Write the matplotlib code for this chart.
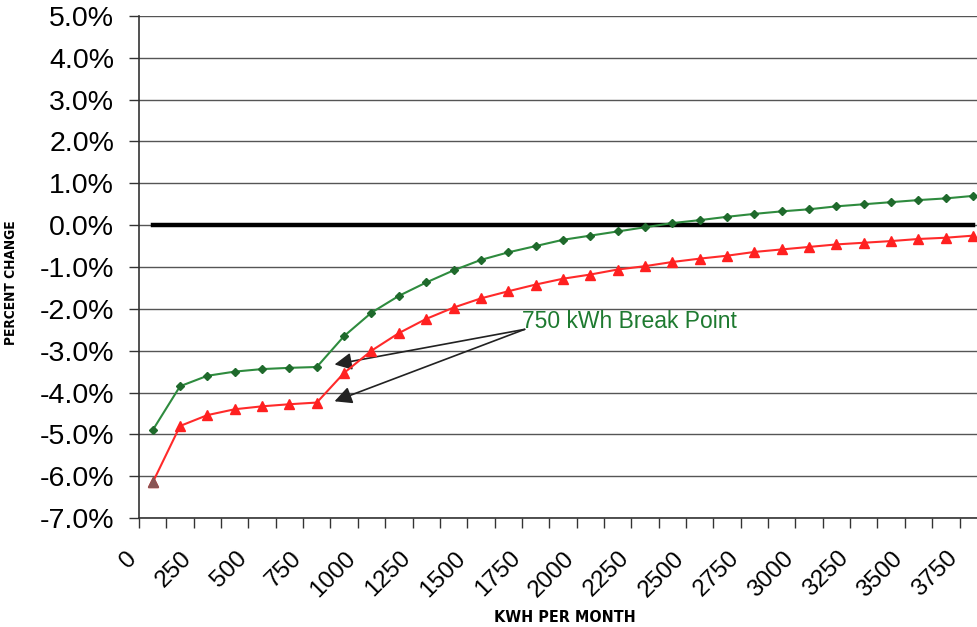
import numpy as np
import matplotlib.pyplot as plt
from matplotlib.transforms import ScaledTranslation

# kWh per month (categories), every 125
kwh = [0, 125, 250, 375, 500, 625, 750, 875, 1000, 1125, 1250, 1375, 1500,
       1625, 1750, 1875, 2000, 2125, 2250, 2375, 2500, 2625, 2750, 2875,
       3000, 3125, 3250, 3375, 3500, 3625, 3750]

# percent change, green series (diamonds)
green = [-4.90, -3.85, -3.60, -3.50, -3.44, -3.41, -3.39, -2.65, -2.09, -1.69,
         -1.37, -1.08, -0.83, -0.65, -0.50, -0.35, -0.25, -0.15, -0.05, 0.05,
         0.12, 0.20, 0.27, 0.33, 0.38, 0.45, 0.50, 0.55, 0.60, 0.64, 0.70]

# percent change, red series (triangles)
red = [-6.15, -4.80, -4.54, -4.40, -4.33, -4.28, -4.24, -3.53, -3.00, -2.58,
       -2.24, -1.97, -1.75, -1.58, -1.42, -1.28, -1.18, -1.06, -0.98, -0.88,
       -0.80, -0.73, -0.64, -0.58, -0.52, -0.46, -0.42, -0.38, -0.33, -0.30,
       -0.25]

baseline = [0.0] * len(kwh)

yticks = [-7, -6, -5, -4, -3, -2, -1, 0, 1, 2, 3, 4, 5]

fig = plt.figure(figsize=(9.77, 6.27), dpi=100)
ax = fig.add_axes([0.1423, 0.1738, 0.8678, 0.8007])

step = 125
ax.set_xlim(kwh[0] - step / 2, kwh[-1] + step / 2)
ax.set_ylim(-7, 5)

ax.grid(True, axis='y', color='#555555', linewidth=1.0)
ax.set_axisbelow(True)

ax.plot(kwh, baseline, color='black', linewidth=3.2, zorder=3)
ax.plot(kwh, red, color='#ff2a2a', linewidth=1.5, marker='^', markersize=7,
        markerfacecolor='#ff2020', markeredgecolor='#ff2020', zorder=4)
ax.plot(kwh[0], red[0], marker='^', markersize=7, color='#8a5555', zorder=5)
ax.plot(kwh, green, color='#2e8b3e', linewidth=1.5, marker='D', markersize=4.5,
        markerfacecolor='#1f6a2c', markeredgecolor='#1f6a2c', zorder=4)

# annotation
ax.text(1690, -2.30, '750 kWh Break Point', color='#1e7a30', fontsize=16.5,
        family='Liberation Sans', ha='left', va='center')
for tip in [(831, -3.33), (831, -4.21)]:
    ax.annotate('', xy=tip, xytext=(1700, -2.49),
                arrowprops=dict(arrowstyle='-|>', color='#222222', lw=1.2,
                                mutation_scale=26, shrinkA=0, shrinkB=0))

# spines
ax.spines['top'].set_visible(False)
ax.spines['right'].set_visible(False)
ax.spines['left'].set_color('#333333')
ax.spines['bottom'].set_color('#333333')
ax.spines['left'].set_linewidth(1.2)
ax.spines['bottom'].set_linewidth(1.2)

# y axis
ax.set_yticks(yticks)
ax.set_yticklabels(['%.1f%%' % v for v in yticks], fontsize=20.5,
                   family='Liberation Sans')
ax.tick_params(axis='y', length=7, width=1.0, color='#333333', pad=11)

# x axis: labels at every other category, tick marks at category borders
ax.set_xticks(kwh[::2])
ax.set_xticklabels([str(v) for v in kwh[::2]], rotation=45, ha='right',
                   fontsize=17.5, family='Liberation Sans')
ax.set_xticks(list(np.array(kwh) - step / 2) + [kwh[-1] + step / 2], minor=True)
ax.tick_params(axis='x', which='major', length=0, pad=21)
ax.tick_params(axis='x', which='minor', length=7, width=1.0, color='#333333')
for lab in ax.get_xticklabels():
    lab.set_transform(lab.get_transform() +
                      ScaledTranslation(-8 / 72, 0, fig.dpi_scale_trans))

ax.set_xlabel('KWH PER MONTH', fontsize=11.5, fontweight='bold',
              family='DejaVu Sans', fontstretch='condensed')
ax.xaxis.set_label_coords(0.502, -0.183)
ax.set_ylabel('PERCENT CHANGE', fontsize=9.8, fontweight='bold',
              family='DejaVu Sans', fontstretch='condensed')
ax.yaxis.set_label_coords(-0.143, 0.468)

plt.savefig('out.png', dpi=100)
